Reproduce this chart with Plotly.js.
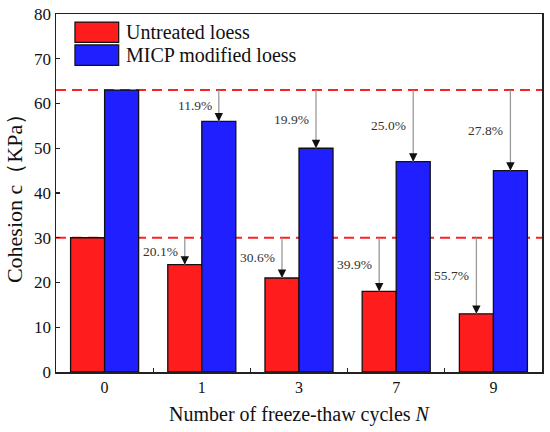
<!DOCTYPE html>
<html>
<head>
<meta charset="utf-8">
<script src="https://cdn.plot.ly/plotly-3.0.1.min.js"></script>
<style>html,body{margin:0;padding:0;background:#fff;}#chart{width:550px;height:432px;}</style>
</head>
<body>
<div id="chart"></div>
<script>
// Data
const cycles = ['0', '1', '3', '7', '9'];
const untreated = [30, 24, 21, 18, 13];
const micp = [63, 56, 50, 47, 45];
const untreatedLoss = ['', '20.1%', '30.6%', '39.9%', '55.7%'];
const micpLoss = ['', '11.9%', '19.9%', '25.0%', '27.8%'];
const seriesNames = ['Untreated loess', 'MICP modified loess'];

const idx = cycles.map((_, i) => i);
const BW = 0.35;
const FONT = 'Liberation Serif, Times New Roman, serif';
const RED = '#ff1c1c';
const BLUE = '#1f1fff';

const traces = [
  {type: 'bar', x: idx, y: untreated, name: seriesNames[0], width: BW, offset: -BW,
   marker: {color: RED, line: {color: '#111', width: 1.3}}, showlegend: false},
  {type: 'bar', x: idx, y: micp, name: seriesNames[1], width: BW, offset: 0,
   marker: {color: BLUE, line: {color: '#111', width: 1.3}}, showlegend: false}
];

const shapes = [];
const annotations = [];
// reference dashed lines
[untreated[0], micp[0]].forEach(v => {
  shapes.push({type: 'line', xref: 'paper', yref: 'y', x0: 0, x1: 1, y0: v, y1: v,
    layer: 'below', line: {color: '#ff2020', width: 2, dash: '10px,6px'}});
});

function addArrows(vals, labels, off) {
  const ref = vals[0];
  for (let i = 1; i < vals.length; i++) {
    const xc = i + off;
    shapes.push({type: 'line', xref: 'x', yref: 'y', x0: xc, x1: xc, y0: ref, y1: vals[i],
      layer: 'above', line: {color: '#999', width: 1.3}});
    annotations.push({x: xc, y: vals[i], xref: 'x', yref: 'y', showarrow: true, text: '',
      ax: 0, ay: -9, arrowhead: 2, arrowsize: 1.4, arrowwidth: 1.2, arrowcolor: '#111', standoff: 0});
    annotations.push({x: xc, y: (ref + vals[i]) / 2, xref: 'x', yref: 'y', showarrow: false,
      text: labels[i], xanchor: 'right', yanchor: 'middle', xshift: -5,
      font: {family: FONT, size: 13.5, color: '#333'}});
  }
}
addArrows(untreated, untreatedLoss, -BW / 2);
addArrows(micp, micpLoss, BW / 2);

// legend (drawn manually for large swatches)
[[RED, seriesNames[0], 0.949], [BLUE, seriesNames[1], 0.885]].forEach(([c, t, yc]) => {
  shapes.push({type: 'rect', xref: 'paper', yref: 'paper', x0: 0.039, x1: 0.129,
    y0: yc - 0.0285, y1: yc + 0.0285, fillcolor: c, line: {color: '#111', width: 1.2}});
  annotations.push({xref: 'paper', yref: 'paper', x: 0.14, y: yc, showarrow: false,
    xanchor: 'left', yanchor: 'middle', text: t, font: {family: FONT, size: 20, color: '#111'}});
});

const layout = {
  width: 550, height: 432,
  margin: {l: 56, r: 8, t: 14, b: 60},
  paper_bgcolor: '#fff', plot_bgcolor: '#fff',
  font: {family: FONT, color: '#111'},
  showlegend: false,
  bargap: 0.3,
  xaxis: {
    range: [-0.5, 4.5], tickmode: 'array', tickvals: idx, ticktext: cycles,
    ticks: '', showgrid: false, zeroline: false,
    showline: true, linecolor: '#222', linewidth: 1.5, mirror: true,
    tickfont: {family: FONT, size: 16, color: '#111'},
    minor: {tickmode: 'array', tickvals: [0.5, 1.5, 2.5, 3.5], ticks: 'inside', ticklen: 4, tickcolor: '#222', tickwidth: 1.2},
    title: {text: 'Number of freeze-thaw cycles <i>N</i>', font: {family: FONT, size: 20, color: '#111'}, standoff: 12}
  },
  yaxis: {
    range: [0, 80], dtick: 10, ticks: 'inside', ticklen: 4, tickwidth: 1.2, tickcolor: '#222',
    showgrid: false, zeroline: false,
    showline: true, linecolor: '#222', linewidth: 1.5, mirror: true,
    tickfont: {family: FONT, size: 17, color: '#111'},
    title: {text: 'Cohesion c（KPa）', font: {family: FONT, size: 22, color: '#111'}, standoff: 5}
  },
  shapes: shapes,
  annotations: annotations
};

Plotly.newPlot('chart', traces, layout, {displayModeBar: false, staticPlot: true});
</script>
</body>
</html>
